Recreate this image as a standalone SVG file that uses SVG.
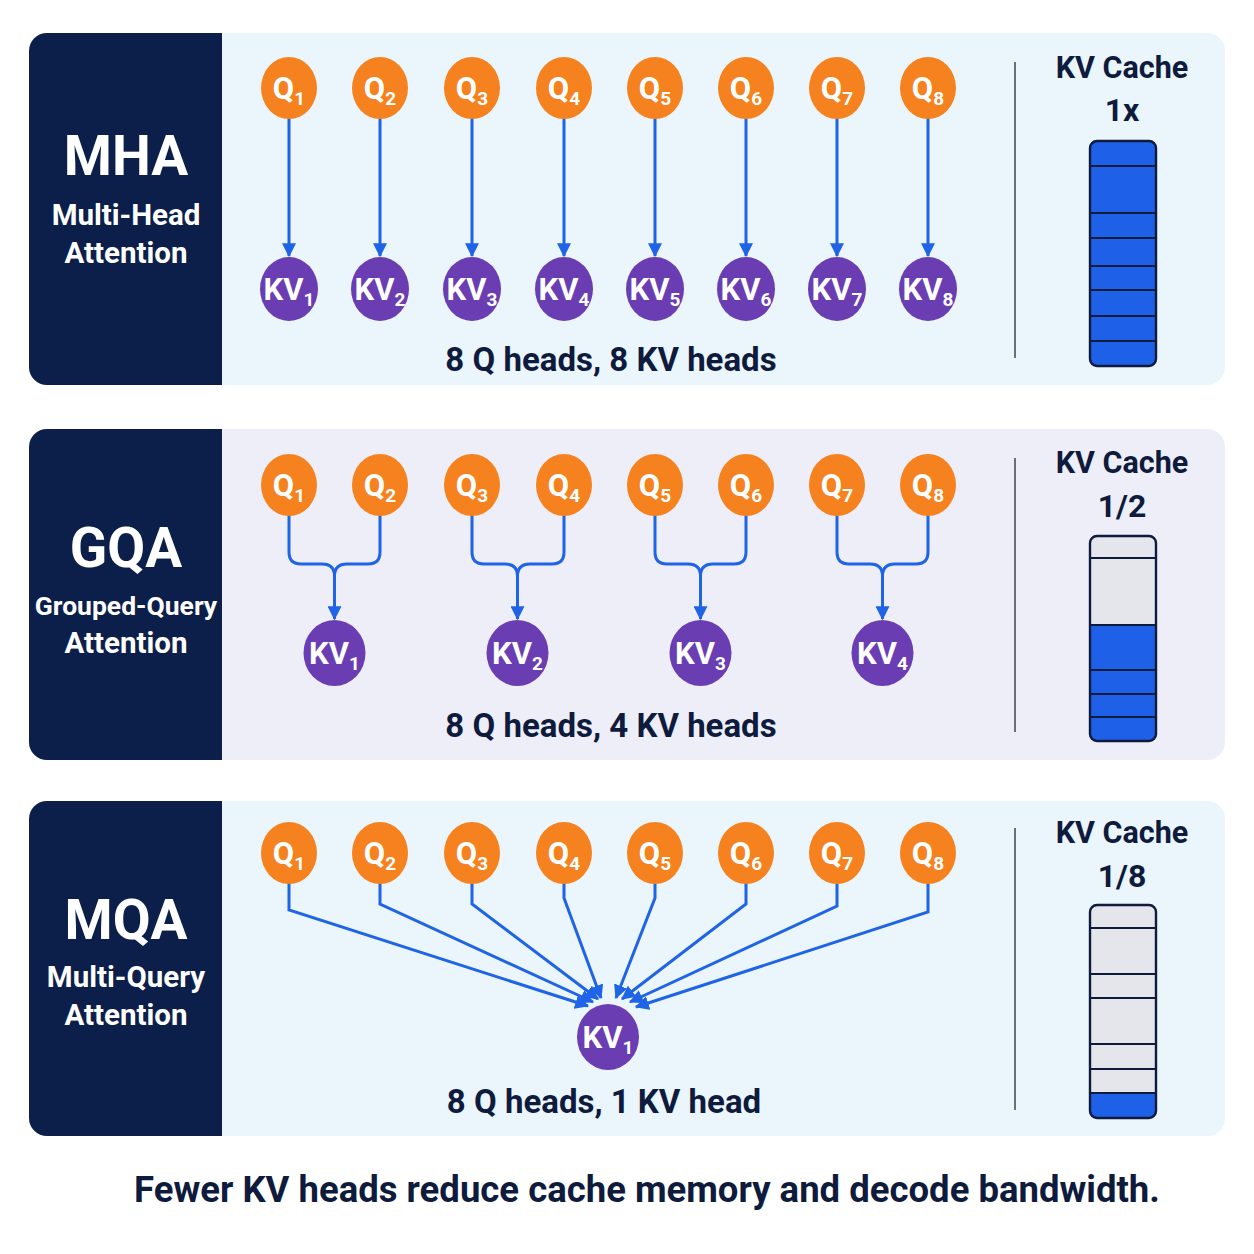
<svg xmlns="http://www.w3.org/2000/svg" width="1254" height="1254" viewBox="0 0 1254 1254">
<defs>
<style>
.panelA{fill:#eaf5fc}
.panelB{fill:#eeeef9}
.dark{fill:#0c1f4b}
.title{font-family:Roboto,"Liberation Sans",sans-serif;font-weight:700;fill:#ffffff;text-anchor:middle}
.big{font-size:55px}
.subt{font-size:29.5px}
.q{fill:#f5821f}
.kv{fill:#6a3db3}
.nt{font-family:Roboto,"Liberation Sans",sans-serif;font-weight:700;font-size:31px;fill:#ffffff;text-anchor:middle}
.sb{font-size:19px}
.lbl{font-family:Roboto,"Liberation Sans",sans-serif;font-weight:700;font-size:33px;fill:#0e1b3d;text-anchor:middle}
.cap{font-family:Roboto,"Liberation Sans",sans-serif;font-weight:700;font-size:36.5px;fill:#0e1b3d;text-anchor:middle}
.sep{stroke:#6b6f78;stroke-width:2}
.con{fill:none;stroke:#1f63e6;stroke-width:3}
.cb{fill:#1f60e8}
.cg{fill:#e4e6ec}
.cdiv{stroke:#0e1b3d;stroke-width:2}
.cout{fill:none;stroke:#0e1b3d;stroke-width:2.4}
</style>
<marker id="ah" viewBox="0 0 12 12" refX="11" refY="6" markerWidth="14" markerHeight="14" markerUnits="userSpaceOnUse" orient="auto">
<path d="M0,0 L12,6 L0,12 z" fill="#1f63e6"/>
</marker>
<clipPath id="c1"><rect x="29" y="33" width="1196" height="352" rx="18"/></clipPath>
<clipPath id="c2"><rect x="29" y="429" width="1196" height="331" rx="18"/></clipPath>
<clipPath id="c3"><rect x="29" y="801" width="1196" height="335" rx="18"/></clipPath>
<clipPath id="cg2"><rect x="1090" y="536" width="66" height="205" rx="7"/></clipPath>
<clipPath id="cg3"><rect x="1090" y="905" width="66" height="213" rx="7"/></clipPath>
</defs>

<g id="panel-mha">
<rect class="panelA" x="29" y="33" width="1196" height="352" rx="18"/>
<rect class="dark" x="29" y="33" width="193" height="352" clip-path="url(#c1)"/>
<text class="title big" x="126" y="175">MHA</text>
<text class="title subt" x="126" y="225">Multi-Head</text>
<text class="title subt" x="126" y="263">Attention</text>
<line class="sep" x1="1015" y1="62" x2="1015" y2="358"/>
<text class="lbl" x="1122" y="78" style="font-size:30.5px">KV Cache</text>
<text class="lbl" x="1122" y="121" style="font-size:32px">1x</text>
<text class="lbl" x="611" y="371">8 Q heads, 8 KV heads</text>
</g>
<g id="panel-gqa">
<rect class="panelB" x="29" y="429" width="1196" height="331" rx="18"/>
<rect class="dark" x="29" y="429" width="193" height="331" clip-path="url(#c2)"/>
<text class="title big" x="126" y="567">GQA</text>
<text class="title subt" x="126" y="615" style="font-size:26.5px">Grouped-Query</text>
<text class="title subt" x="126" y="653">Attention</text>
<line class="sep" x1="1015" y1="458" x2="1015" y2="732"/>
<text class="lbl" x="1122" y="473" style="font-size:30.5px">KV Cache</text>
<text class="lbl" x="1122" y="517" style="font-size:32px">1/2</text>
<text class="lbl" x="611" y="737">8 Q heads, 4 KV heads</text>
</g>
<g id="panel-mqa">
<rect class="panelA" x="29" y="801" width="1196" height="335" rx="18"/>
<rect class="dark" x="29" y="801" width="193" height="335" clip-path="url(#c3)"/>
<text class="title big" x="126" y="939">MQA</text>
<text class="title subt" x="126" y="987">Multi-Query</text>
<text class="title subt" x="126" y="1025">Attention</text>
<line class="sep" x1="1015" y1="828" x2="1015" y2="1110"/>
<text class="lbl" x="1122" y="843" style="font-size:30.5px">KV Cache</text>
<text class="lbl" x="1122" y="887" style="font-size:32px">1/8</text>
<text class="lbl" x="604" y="1113">8 Q heads, 1 KV head</text>
</g>

<g id="cache-mha">
<rect class="cb" x="1090" y="141" width="66" height="225" rx="7"/>
<line class="cdiv" x1="1090" y1="166" x2="1156" y2="166"/>
<line class="cdiv" x1="1090" y1="213" x2="1156" y2="213"/>
<line class="cdiv" x1="1090" y1="238" x2="1156" y2="238"/>
<line class="cdiv" x1="1090" y1="266" x2="1156" y2="266"/>
<line class="cdiv" x1="1090" y1="290" x2="1156" y2="290"/>
<line class="cdiv" x1="1090" y1="316" x2="1156" y2="316"/>
<line class="cdiv" x1="1090" y1="341" x2="1156" y2="341"/>
<rect class="cout" x="1090" y="141" width="66" height="225" rx="7"/>
</g>
<g id="cache-gqa">
<g clip-path="url(#cg2)">
<rect class="cg" x="1090" y="536" width="66" height="89"/>
<rect class="cb" x="1090" y="625" width="66" height="116"/>
</g>
<line class="cdiv" x1="1090" y1="558" x2="1156" y2="558"/>
<line class="cdiv" x1="1090" y1="625" x2="1156" y2="625"/>
<line class="cdiv" x1="1090" y1="670" x2="1156" y2="670"/>
<line class="cdiv" x1="1090" y1="694" x2="1156" y2="694"/>
<line class="cdiv" x1="1090" y1="717" x2="1156" y2="717"/>
<rect class="cout" x="1090" y="536" width="66" height="205" rx="7"/>
</g>
<g id="cache-mqa">
<g clip-path="url(#cg3)">
<rect class="cg" x="1090" y="905" width="66" height="188"/>
<rect class="cb" x="1090" y="1093" width="66" height="25"/>
</g>
<line class="cdiv" x1="1090" y1="928" x2="1156" y2="928"/>
<line class="cdiv" x1="1090" y1="974" x2="1156" y2="974"/>
<line class="cdiv" x1="1090" y1="998" x2="1156" y2="998"/>
<line class="cdiv" x1="1090" y1="1044" x2="1156" y2="1044"/>
<line class="cdiv" x1="1090" y1="1069" x2="1156" y2="1069"/>
<line class="cdiv" x1="1090" y1="1093" x2="1156" y2="1093"/>
<rect class="cout" x="1090" y="905" width="66" height="213" rx="7"/>
</g>

<g id="connectors">
<line class="con" x1="289" y1="118" x2="289" y2="256" marker-end="url(#ah)"/>
<line class="con" x1="380" y1="118" x2="380" y2="256" marker-end="url(#ah)"/>
<line class="con" x1="472" y1="118" x2="472" y2="256" marker-end="url(#ah)"/>
<line class="con" x1="564" y1="118" x2="564" y2="256" marker-end="url(#ah)"/>
<line class="con" x1="655" y1="118" x2="655" y2="256" marker-end="url(#ah)"/>
<line class="con" x1="746" y1="118" x2="746" y2="256" marker-end="url(#ah)"/>
<line class="con" x1="837" y1="118" x2="837" y2="256" marker-end="url(#ah)"/>
<line class="con" x1="928" y1="118" x2="928" y2="256" marker-end="url(#ah)"/>

<path class="con" d="M289,515 V552 Q289,564 301,564 H322 Q334.5,564 334.5,576"/>
<path class="con" d="M380,515 V552 Q380,564 368,564 H347 Q334.5,564 334.5,576 V619" marker-end="url(#ah)"/>
<path class="con" d="M472,515 V552 Q472,564 484,564 H505 Q517.5,564 517.5,576"/>
<path class="con" d="M564,515 V552 Q564,564 552,564 H530 Q517.5,564 517.5,576 V619" marker-end="url(#ah)"/>
<path class="con" d="M655,515 V552 Q655,564 667,564 H688 Q700.5,564 700.5,576"/>
<path class="con" d="M746,515 V552 Q746,564 734,564 H713 Q700.5,564 700.5,576 V619" marker-end="url(#ah)"/>
<path class="con" d="M837,515 V552 Q837,564 849,564 H870 Q882.5,564 882.5,576"/>
<path class="con" d="M928,515 V552 Q928,564 916,564 H895 Q882.5,564 882.5,576 V619" marker-end="url(#ah)"/>

<path class="con" d="M289,883 V910 L588,1006" marker-end="url(#ah)"/>
<path class="con" d="M380,883 V904 L593,1002" marker-end="url(#ah)"/>
<path class="con" d="M472,883 V904 L598,999" marker-end="url(#ah)"/>
<path class="con" d="M564,883 V898 L601,998" marker-end="url(#ah)"/>
<path class="con" d="M655,883 V898 L616,998" marker-end="url(#ah)"/>
<path class="con" d="M746,883 V904 L622,999" marker-end="url(#ah)"/>
<path class="con" d="M837,883 V906 L630,1002" marker-end="url(#ah)"/>
<path class="con" d="M928,883 V912 L636,1007" marker-end="url(#ah)"/>
</g>

<g id="mha-q1"><ellipse class="q" cx="289" cy="88" rx="28" ry="31"/><text class="nt" x="289" y="99">Q<tspan class="sb" dy="6">1</tspan></text></g>
<g id="mha-q2"><ellipse class="q" cx="380" cy="88" rx="28" ry="31"/><text class="nt" x="380" y="99">Q<tspan class="sb" dy="6">2</tspan></text></g>
<g id="mha-q3"><ellipse class="q" cx="472" cy="88" rx="28" ry="31"/><text class="nt" x="472" y="99">Q<tspan class="sb" dy="6">3</tspan></text></g>
<g id="mha-q4"><ellipse class="q" cx="564" cy="88" rx="28" ry="31"/><text class="nt" x="564" y="99">Q<tspan class="sb" dy="6">4</tspan></text></g>
<g id="mha-q5"><ellipse class="q" cx="655" cy="88" rx="28" ry="31"/><text class="nt" x="655" y="99">Q<tspan class="sb" dy="6">5</tspan></text></g>
<g id="mha-q6"><ellipse class="q" cx="746" cy="88" rx="28" ry="31"/><text class="nt" x="746" y="99">Q<tspan class="sb" dy="6">6</tspan></text></g>
<g id="mha-q7"><ellipse class="q" cx="837" cy="88" rx="28" ry="31"/><text class="nt" x="837" y="99">Q<tspan class="sb" dy="6">7</tspan></text></g>
<g id="mha-q8"><ellipse class="q" cx="928" cy="88" rx="28" ry="31"/><text class="nt" x="928" y="99">Q<tspan class="sb" dy="6">8</tspan></text></g>
<g id="mha-kv1"><ellipse class="kv" cx="289" cy="289" rx="29" ry="32"/><text class="nt" x="289" y="300">KV<tspan class="sb" dy="6">1</tspan></text></g>
<g id="mha-kv2"><ellipse class="kv" cx="380" cy="289" rx="29" ry="32"/><text class="nt" x="380" y="300">KV<tspan class="sb" dy="6">2</tspan></text></g>
<g id="mha-kv3"><ellipse class="kv" cx="472" cy="289" rx="29" ry="32"/><text class="nt" x="472" y="300">KV<tspan class="sb" dy="6">3</tspan></text></g>
<g id="mha-kv4"><ellipse class="kv" cx="564" cy="289" rx="29" ry="32"/><text class="nt" x="564" y="300">KV<tspan class="sb" dy="6">4</tspan></text></g>
<g id="mha-kv5"><ellipse class="kv" cx="655" cy="289" rx="29" ry="32"/><text class="nt" x="655" y="300">KV<tspan class="sb" dy="6">5</tspan></text></g>
<g id="mha-kv6"><ellipse class="kv" cx="746" cy="289" rx="29" ry="32"/><text class="nt" x="746" y="300">KV<tspan class="sb" dy="6">6</tspan></text></g>
<g id="mha-kv7"><ellipse class="kv" cx="837" cy="289" rx="29" ry="32"/><text class="nt" x="837" y="300">KV<tspan class="sb" dy="6">7</tspan></text></g>
<g id="mha-kv8"><ellipse class="kv" cx="928" cy="289" rx="29" ry="32"/><text class="nt" x="928" y="300">KV<tspan class="sb" dy="6">8</tspan></text></g>

<g id="gqa-q1"><ellipse class="q" cx="289" cy="485" rx="28" ry="31"/><text class="nt" x="289" y="496">Q<tspan class="sb" dy="6">1</tspan></text></g>
<g id="gqa-q2"><ellipse class="q" cx="380" cy="485" rx="28" ry="31"/><text class="nt" x="380" y="496">Q<tspan class="sb" dy="6">2</tspan></text></g>
<g id="gqa-q3"><ellipse class="q" cx="472" cy="485" rx="28" ry="31"/><text class="nt" x="472" y="496">Q<tspan class="sb" dy="6">3</tspan></text></g>
<g id="gqa-q4"><ellipse class="q" cx="564" cy="485" rx="28" ry="31"/><text class="nt" x="564" y="496">Q<tspan class="sb" dy="6">4</tspan></text></g>
<g id="gqa-q5"><ellipse class="q" cx="655" cy="485" rx="28" ry="31"/><text class="nt" x="655" y="496">Q<tspan class="sb" dy="6">5</tspan></text></g>
<g id="gqa-q6"><ellipse class="q" cx="746" cy="485" rx="28" ry="31"/><text class="nt" x="746" y="496">Q<tspan class="sb" dy="6">6</tspan></text></g>
<g id="gqa-q7"><ellipse class="q" cx="837" cy="485" rx="28" ry="31"/><text class="nt" x="837" y="496">Q<tspan class="sb" dy="6">7</tspan></text></g>
<g id="gqa-q8"><ellipse class="q" cx="928" cy="485" rx="28" ry="31"/><text class="nt" x="928" y="496">Q<tspan class="sb" dy="6">8</tspan></text></g>
<g id="gqa-kv1"><ellipse class="kv" cx="334.5" cy="653" rx="31" ry="33"/><text class="nt" x="334.5" y="664">KV<tspan class="sb" dy="6">1</tspan></text></g>
<g id="gqa-kv2"><ellipse class="kv" cx="517.5" cy="653" rx="31" ry="33"/><text class="nt" x="517.5" y="664">KV<tspan class="sb" dy="6">2</tspan></text></g>
<g id="gqa-kv3"><ellipse class="kv" cx="700.5" cy="653" rx="31" ry="33"/><text class="nt" x="700.5" y="664">KV<tspan class="sb" dy="6">3</tspan></text></g>
<g id="gqa-kv4"><ellipse class="kv" cx="882.5" cy="653" rx="31" ry="33"/><text class="nt" x="882.5" y="664">KV<tspan class="sb" dy="6">4</tspan></text></g>

<g id="mqa-q1"><ellipse class="q" cx="289" cy="853" rx="28" ry="31"/><text class="nt" x="289" y="864">Q<tspan class="sb" dy="6">1</tspan></text></g>
<g id="mqa-q2"><ellipse class="q" cx="380" cy="853" rx="28" ry="31"/><text class="nt" x="380" y="864">Q<tspan class="sb" dy="6">2</tspan></text></g>
<g id="mqa-q3"><ellipse class="q" cx="472" cy="853" rx="28" ry="31"/><text class="nt" x="472" y="864">Q<tspan class="sb" dy="6">3</tspan></text></g>
<g id="mqa-q4"><ellipse class="q" cx="564" cy="853" rx="28" ry="31"/><text class="nt" x="564" y="864">Q<tspan class="sb" dy="6">4</tspan></text></g>
<g id="mqa-q5"><ellipse class="q" cx="655" cy="853" rx="28" ry="31"/><text class="nt" x="655" y="864">Q<tspan class="sb" dy="6">5</tspan></text></g>
<g id="mqa-q6"><ellipse class="q" cx="746" cy="853" rx="28" ry="31"/><text class="nt" x="746" y="864">Q<tspan class="sb" dy="6">6</tspan></text></g>
<g id="mqa-q7"><ellipse class="q" cx="837" cy="853" rx="28" ry="31"/><text class="nt" x="837" y="864">Q<tspan class="sb" dy="6">7</tspan></text></g>
<g id="mqa-q8"><ellipse class="q" cx="928" cy="853" rx="28" ry="31"/><text class="nt" x="928" y="864">Q<tspan class="sb" dy="6">8</tspan></text></g>
<g id="mqa-kv1"><ellipse class="kv" cx="608" cy="1037" rx="31" ry="33"/><text class="nt" x="608" y="1048">KV<tspan class="sb" dy="6">1</tspan></text></g>

<g id="caption">
<text class="cap" x="647" y="1202">Fewer KV heads reduce cache memory and decode bandwidth.</text>
</g>
</svg>
